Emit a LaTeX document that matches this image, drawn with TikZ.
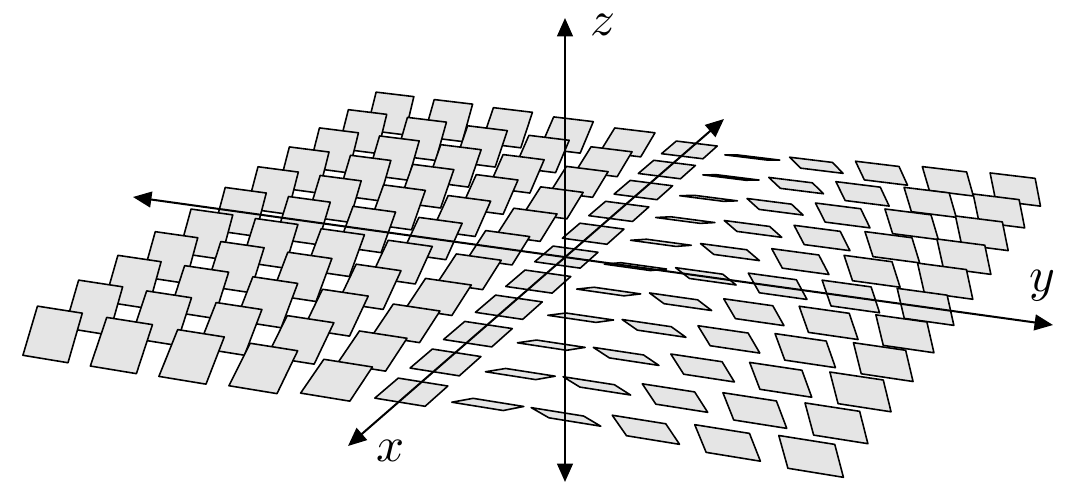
\documentclass[tikz,border=0pt]{standalone}
\usetikzlibrary{arrows.meta}

\tikzset{
    declare function={
        ww(\x,\y,\z) = 1 - 0.02302*\x - 0.0095*\y;
        px(\x,\y,\z) = 566.5 + (-27.43*\x + 68.4*\y)/ww(\x,\y,\z);
        py(\x,\y,\z) = 257 + (23.9*\x + 9.5*\y - 66*\z)/ww(\x,\y,\z);
    },
    patch/.style={draw=black, fill=black!10, line width=0.9pt, line join=round},
    axis/.style={line width=1.15pt, {Triangle[length=10.5pt, width=9pt]}-{Triangle[length=10.5pt, width=9pt]}},
    axislabel/.style={scale=2.8, inner sep=0pt},
}
\newcommand{\proj}[3]{({px(#1,#2,#3)},{py(#1,#2,#3)})}

\begin{document}
\begin{tikzpicture}[x=0.02cm, y=-0.02cm]
    \useasboundingbox (0, 0) rectangle (1080, 489);
    \foreach \i in {-5,...,5} {
        \foreach \j in {-5,...,5} {
            \pgfmathsetmacro{\ang}{atan(0.33*\j)}
            \pgfmathsetmacro{\dx}{0.33*cos(\ang)}
            \pgfmathsetmacro{\dz}{0.33*sin(\ang)}
            \draw[patch] \proj{\i-\dx}{\j-0.33}{-\dz} -- \proj{\i-\dx}{\j+0.33}{-\dz}
                -- \proj{\i+\dx}{\j+0.33}{\dz} -- \proj{\i+\dx}{\j-0.33}{\dz} -- cycle;
        }
    }
    \coordinate (xback) at (724, 119);
    \coordinate (xfront) at (348, 446);
    \coordinate (yleft) at (133, 197);
    \coordinate (yright) at (1053, 325);
    \coordinate (ztop) at (565, 18);
    \coordinate (zbottom) at (565, 482);
    \draw[axis] (xback) -- (xfront);
    \draw[axis] (yleft) -- (yright);
    \draw[axis] (ztop) -- (zbottom);
    \node[axislabel] (xlabel) at (391, 451) {$x$};
    \node[axislabel] (ylabel) at (1042, 286) {$y$};
    \node[axislabel] (zlabel) at (603, 25) {$z$};
\end{tikzpicture}
\end{document}
